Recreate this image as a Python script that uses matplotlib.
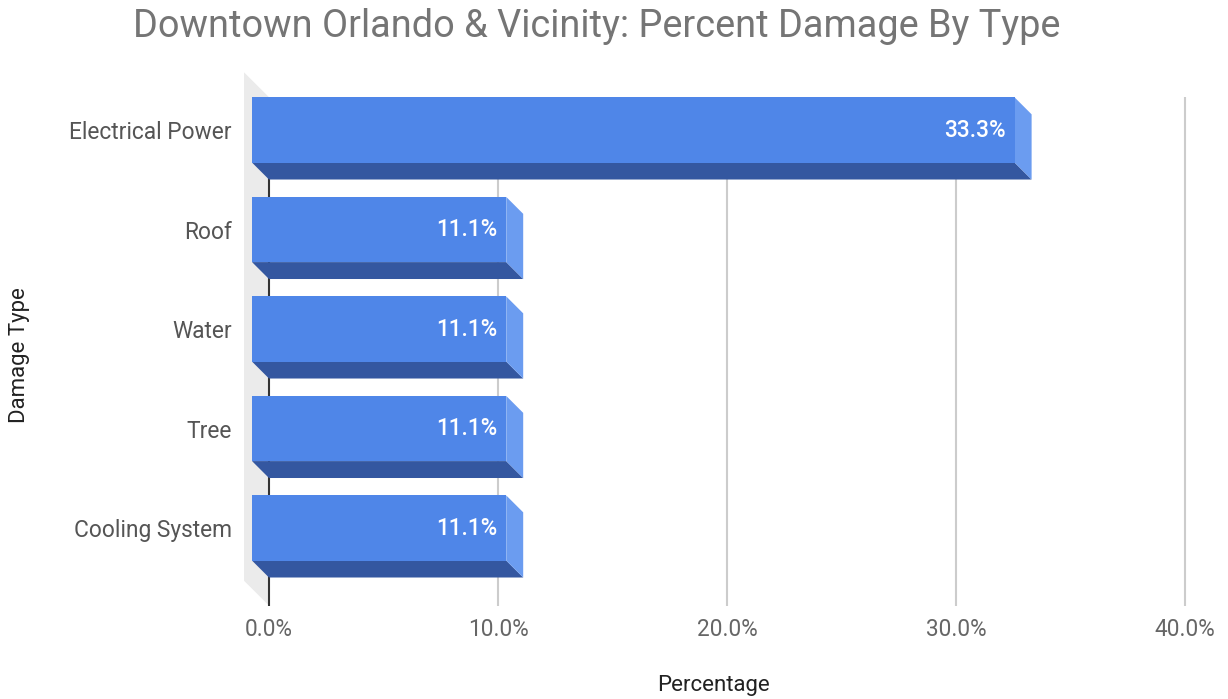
import matplotlib.pyplot as plt
from matplotlib.patches import Polygon

plt.rcParams['font.family'] = ['Roboto', 'DejaVu Sans']

# Data
categories = ['Electrical Power', 'Roof', 'Water', 'Tree', 'Cooling System']
values = [33.3, 11.1, 11.1, 11.1, 11.1]
xticks = [0, 10, 20, 30, 40]
xtick_labels = ['0.0%', '10.0%', '20.0%', '30.0%', '40.0%']

front_col = '#4f86e8'
bottom_col = '#3457a0'
side_col = '#6b9cf0'
wall_col = '#ebebeb'

fig = plt.figure(figsize=(12.28, 6.99), dpi=100)
ax = fig.add_axes([0.1948, 0.1336, 0.7982, 0.7658])
ax.set_xlim(-1.3, 41.5)
ax.set_ylim(4.78, -0.6)

# depth of the fake 3d effect, in data units
dx, dy = 0.74, 0.17
wdx, wdy = 1.09, 0.25
h = 0.655
top = -0.33
bottom = 4.78

# left wall
wall = Polygon([(-wdx, top - wdy), (0, top), (0, bottom), (-wdx, bottom - wdy)],
               closed=True, color=wall_col, zorder=0, clip_on=False, lw=0)
ax.add_patch(wall)

# grid lines and base line
ax.vlines(xticks[1:], top, bottom, color='#cccccc', lw=1.5, zorder=1)
ax.vlines(0, top, bottom, color='#333333', lw=1.5, zorder=1)

for i, v in enumerate(values):
    y0 = i - h / 2
    y1 = i + h / 2
    # bottom face
    ax.add_patch(Polygon([(-dx, y1), (v - dx, y1), (v, y1 + dy), (0, y1 + dy)],
                         closed=True, color=bottom_col, lw=0, zorder=3, clip_on=False))
    # side face
    ax.add_patch(Polygon([(v - dx, y0), (v, y0 + dy), (v, y1 + dy), (v - dx, y1)],
                         closed=True, color=side_col, lw=0, zorder=3))
    # front face
    ax.barh(i, v, left=-dx, height=h, color=front_col, lw=0, zorder=4)
    ax.annotate(f'{v:.1f}%', xy=(v - dx, i), xytext=(-6.5, 0), textcoords='offset points',
                ha='right', va='center', color='white', fontsize=16.3,
                fontweight='medium', zorder=5)

ax.set_yticks(range(len(categories)))
ax.set_yticklabels(categories)
ax.set_xticks(xticks)
ax.set_xticklabels(xtick_labels)
ax.tick_params(axis='y', length=0, pad=5.5, labelsize=16.4, labelcolor='#555555')
ax.tick_params(axis='x', length=0, pad=9, labelsize=16.3, labelcolor='#666666')
for s in ax.spines.values():
    s.set_visible(False)

fig.text(0.486, 0.962, 'Downtown Orlando & Vicinity: Percent Damage By Type',
         ha='center', va='center', fontsize=27.3, color='#757575')
fig.text(0.581, 0.02, 'Percentage', ha='center', va='center', fontsize=16, color='#222222')
fig.text(0.016, 0.492, 'Damage Type', ha='center', va='center', rotation=90,
         fontsize=16, color='#222222')

fig.savefig('out.png', dpi=100)
